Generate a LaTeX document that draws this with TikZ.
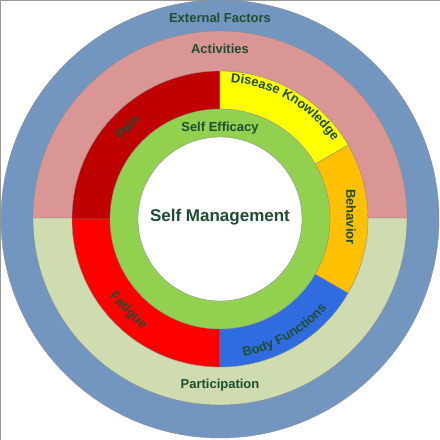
\documentclass[tikz,border=0pt]{standalone}
\usepackage{fontspec}
\setmainfont{Liberation Sans}
\usetikzlibrary{decorations.text}
\definecolor{extc}{HTML}{7396C0}
\definecolor{actc}{HTML}{D99694}
\definecolor{partc}{HTML}{CEDCAF}
\definecolor{painc}{HTML}{C00000}
\definecolor{fatc}{HTML}{FF0000}
\definecolor{knowc}{HTML}{FFFF00}
\definecolor{behc}{HTML}{FFC000}
\definecolor{bodyc}{HTML}{2F6CE0}
\definecolor{effc}{HTML}{92D050}
\definecolor{txtc}{HTML}{1E4D32}
\newcommand{\lblfont}{\fontsize{13}{15}\selectfont\bfseries}

\begin{document}
\begin{tikzpicture}[x=1pt,y=1pt,font=\lblfont,
  ring/.style={draw=black!45,line width=0.4pt},
  lbl/.style={text=txtc,inner sep=0pt},
  arclbl/.style={decorate,decoration={text along path,text align=center,text color=txtc,text={|\lblfont|#1}}}]
  \useasboundingbox (-220,-221) rectangle (220,219);
  \draw[fill=white,draw=black!40] (-220,-221) rectangle (220,219);
  % rings from outside in
  \draw[ring,fill=extc] (0,0) circle (219);
  \draw[ring,fill=actc] (187,1) arc (0:180:187) -- cycle;
  \draw[ring,fill=partc] (-187,1) arc (180:360:187) -- cycle;
  \draw[ring,fill=painc] (0,0) -- (90:148) arc (90:180:148) -- cycle;
  \draw[ring,fill=fatc] (0,0) -- (180:148) arc (180:270:148) -- cycle;
  \draw[ring,fill=bodyc] (0,0) -- (270:148) arc (270:330:148) -- cycle;
  \draw[ring,fill=behc] (0,0) -- (330:148) arc (330:390:148) -- cycle;
  \draw[ring,fill=knowc] (0,0) -- (30:148) arc (30:90:148) -- cycle;
  \draw[ring,fill=effc] (0,0) circle (110);
  \draw[ring,fill=white] (0,0) circle (82);
  % labels
  \node[lbl] (ext) at (0,201) {External Factors};
  \node[lbl] (act) at (0,170) {Activities};
  \node[lbl] (part) at (0,-166) {Participation};
  \node[lbl] (eff) at (0,91) {Self Efficacy};
  \node[lbl,font=\fontsize{17}{20}\selectfont\bfseries] (sm) at (0,2) {Self Management};
  \node[lbl,rotate=-90] (beh) at (131,2) {Behavior};
  \node[lbl,rotate=45] (pain) at (135:131) {Pain};
  \node[lbl,rotate=-45] (fat) at (225:130) {Fatigue};
  \path[arclbl=Disease Knowledge] (90:137) arc (90:30:137);
  \path[arclbl=Body Functions] (270:139) arc (270:330:139);
\end{tikzpicture}
\end{document}
